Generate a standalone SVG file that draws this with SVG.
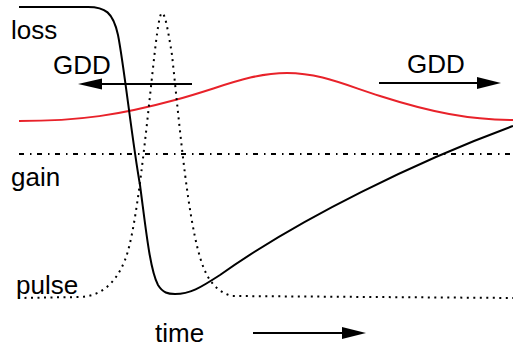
<svg xmlns="http://www.w3.org/2000/svg" width="513" height="347" viewBox="0 0 513 347">
<style>
text{font-family:"Liberation Sans",Arial,sans-serif;font-size:26px;fill:#000}
.c{fill:none;stroke-width:2}
.a{stroke:#000;stroke-width:2;fill:none}
</style>
<rect width="513" height="347" fill="#fff"/>
<g id="gain">
<line x1="19" y1="154" x2="513" y2="154" stroke="#000" stroke-width="2" stroke-dasharray="5 6 1.5 5.5"/>
<text x="11" y="186">gain</text>
</g>
<g id="red">
<path class="c" stroke="#e8222a" d="M19,121 C80,121 120,115 175,100 C220,88 250,73 287,73 C320,73 345,85 380,96 C430,112 470,120 513,120"/>
</g>
<g id="pulse">
<path class="c" stroke="#000" stroke-dasharray="2 4.5" d="M18,298 L80,297 C100,296 115,285 125,260 C137,230 146,130 155,50 C158,25 160,13 162,13 C165,13 168,30 172,55 C178,110 185,190 195,237 C202,270 210,290 232,296 L513,298"/>
<text x="16" y="294">pulse</text>
</g>
<g id="loss">
<path class="c" stroke="#000" d="M19,7 L88,7 C105,7 113,12 118,35 C124,65 132,140 140,185 C146,230 150,270 158,285 C163,293 168,294 175,294 C190,294 200,288 220,275 C300,218 420,160 513,126"/>
<text x="11" y="39">loss</text>
</g>
<g id="labels">
<text x="53" y="74">GDD</text>
<text x="407" y="73">GDD</text>
<text x="155" y="342">time</text>
</g>
<g id="connectors">
<line class="a" x1="192" y1="84" x2="100" y2="84"/>
<polygon points="78,84 102,78.5 102,89.5" fill="#000"/>
<line class="a" x1="379" y1="83" x2="480" y2="83"/>
<polygon points="501,83 477,77 477,89" fill="#000"/>
<line class="a" x1="253" y1="333" x2="344" y2="333"/>
<polygon points="366,333 342,327 342,339" fill="#000"/>
</g>
</svg>
